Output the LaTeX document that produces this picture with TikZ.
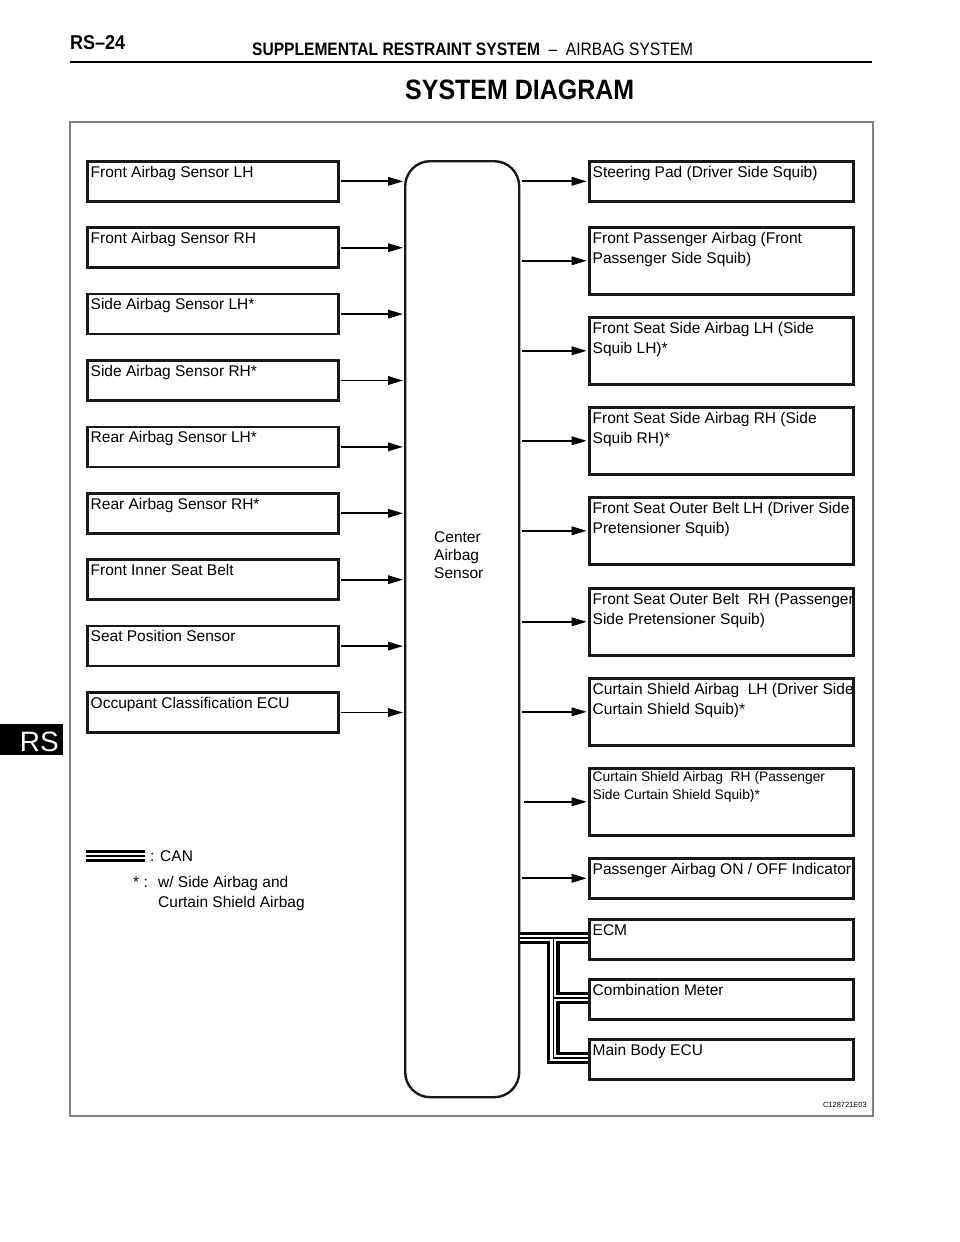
\documentclass[tikz,border=0pt]{standalone}
\usepackage{graphicx}
\usepackage{fontspec}
\setmainfont{Liberation Sans}
\usetikzlibrary{arrows.meta}
\begin{document}
\begin{tikzpicture}[x=1pt,y=-1pt,
  panel/.style={draw=black!50, line width=1.2pt},
  sbox/.style={draw=black!90, line width=2.6pt, anchor=north west, inner sep=0pt, minimum width=#1},
  txt/.style={anchor=base west, inner sep=0pt, font=\fontsize{15.5}{20}\selectfont},
  stxt/.style={anchor=base west, inner sep=0pt, font=\fontsize{13.8}{18}\selectfont},
  arr/.style={line width=1.8pt, -{Triangle[length=15pt,width=8.5pt]}},
  canlayer/.style={line width=#1, line join=miter, line cap=butt}
]
\useasboundingbox (0,0) rectangle (960,1242);
\fill[white] (0,0) rectangle (960,1242);

% header
\node[anchor=base west, inner sep=0pt] (pgno) at (70,49)
  {\resizebox{55pt}{\height}{\fontsize{20}{20}\selectfont\bfseries RS–24}};
\node[anchor=base west, inner sep=0pt] (hdr) at (252,55)
  {\resizebox{441pt}{\height}{\fontsize{18}{20}\selectfont\textbf{SUPPLEMENTAL RESTRAINT SYSTEM}\ \ –\ \ AIRBAG SYSTEM}};
\draw[line width=2.5pt] (70,62) -- (872,62);
\node[anchor=base west, inner sep=0pt] (title) at (405,99)
  {\resizebox{229pt}{\height}{\fontsize{28}{30}\selectfont\bfseries SYSTEM DIAGRAM}};

% side tab
\fill[black] (0,724) rectangle (63,755);
\node[anchor=base east, inner sep=0pt, text=white] (tab) at (59,751) {\fontsize{28}{28}\selectfont RS};

% panel frame
\draw[panel] (70,122) rectangle (873,1116);
\node[anchor=base east, inner sep=0pt, font=\fontsize{7.5}{8}\selectfont] (fig) at (867,1107) {C128721E03};

% center airbag sensor
\node[draw=black!90, line width=2.4pt, rounded corners=25pt, anchor=north west, inner sep=0pt,
      minimum width=114pt, minimum height=936pt] (c) at (404,160) {};
\node[txt] (ct1) at (434,542) {Center};
\node[txt] (ct2) at (434,560) {Airbag};
\node[txt] (ct3) at (434,578) {Sensor};

% left boxes
\foreach \t [count=\i] in {Front Airbag Sensor LH, Front Airbag Sensor RH, Side Airbag Sensor LH*,
  Side Airbag Sensor RH*, Rear Airbag Sensor LH*, Rear Airbag Sensor RH*, Front Inner Seat Belt,
  Seat Position Sensor, Occupant Classification ECU}{
  \node[sbox=251pt, minimum height=40pt] (l\i) at (86,{160+66.4*(\i-1)}) {};
  \node[txt] (lt\i) at ([xshift=4.5pt,yshift=-17pt]l\i.north west) {\t};
  \draw[arr] ([xshift=1.3pt]l\i.east) -- ([xshift=-1pt]c.west |- l\i.east);
}

% CAN bus (drawn before right boxes)
\coordinate (bus0) at (c.east |- 0,938);
\coordinate (tr) at ([xshift=33pt]bus0);
\foreach \w/\col in {12.5pt/black, 6pt/white, 1.3pt/black}{
  \draw[canlayer=\w, draw=\col] (bus0) -- (tr) -- (588,938);
  \draw[canlayer=\w, draw=\col] (tr) -- (tr |- 0,1058) -- (588,1058);
  \draw[canlayer=\w, draw=\col] (tr |- 0,998) -- (588,998);
}

% right boxes
\node[sbox=264pt, minimum height=40pt] (r1) at (588,160) {};
\node[sbox=264pt, minimum height=67pt] (r2) at (588,226) {};
\node[sbox=264pt, minimum height=67pt] (r3) at (588,316) {};
\node[sbox=264pt, minimum height=67pt] (r4) at (588,406) {};
\node[sbox=264pt, minimum height=67pt] (r5) at (588,496) {};
\node[sbox=264pt, minimum height=67pt] (r6) at (588,587) {};
\node[sbox=264pt, minimum height=67pt] (r7) at (588,677) {};
\node[sbox=264pt, minimum height=67pt] (r8) at (588,767) {};
\node[sbox=264pt, minimum height=40pt] (r9) at (588,857) {};
\node[sbox=264pt, minimum height=40pt] (r10) at (588,918) {};
\node[sbox=264pt, minimum height=40pt] (r11) at (588,978) {};
\node[sbox=264pt, minimum height=40pt] (r12) at (588,1038) {};

\node[txt] (rt1) at ([xshift=4.5pt,yshift=-17pt]r1.north west) {Steering Pad (Driver Side Squib)};
\node[txt] (rt2a) at ([xshift=4.5pt,yshift=-17pt]r2.north west) {Front Passenger Airbag (Front};
\node[txt] (rt2b) at ([xshift=4.5pt,yshift=-37pt]r2.north west) {Passenger Side Squib)};
\node[txt] (rt3a) at ([xshift=4.5pt,yshift=-17pt]r3.north west) {Front Seat Side Airbag LH (Side};
\node[txt] (rt3b) at ([xshift=4.5pt,yshift=-37pt]r3.north west) {Squib LH)*};
\node[txt] (rt4a) at ([xshift=4.5pt,yshift=-17pt]r4.north west) {Front Seat Side Airbag RH (Side};
\node[txt] (rt4b) at ([xshift=4.5pt,yshift=-37pt]r4.north west) {Squib RH)*};
\node[txt] (rt5a) at ([xshift=4.5pt,yshift=-17pt]r5.north west) {Front Seat Outer Belt LH (Driver Side};
\node[txt] (rt5b) at ([xshift=4.5pt,yshift=-37pt]r5.north west) {Pretensioner Squib)};
\node[txt] (rt6a) at ([xshift=4.5pt,yshift=-17pt]r6.north west) {Front Seat Outer Belt\ \ RH (Passenger};
\node[txt] (rt6b) at ([xshift=4.5pt,yshift=-37pt]r6.north west) {Side Pretensioner Squib)};
\node[txt] (rt7a) at ([xshift=4.5pt,yshift=-17pt]r7.north west) {Curtain Shield Airbag\ \ LH (Driver Side};
\node[txt] (rt7b) at ([xshift=4.5pt,yshift=-37pt]r7.north west) {Curtain Shield Squib)*};
\node[stxt] (rt8a) at ([xshift=4.5pt,yshift=-14pt]r8.north west) {Curtain Shield Airbag\ \ RH (Passenger};
\node[stxt] (rt8b) at ([xshift=4.5pt,yshift=-32pt]r8.north west) {Side Curtain Shield Squib)*};
\node[txt] (rt9) at ([xshift=4.5pt,yshift=-17pt]r9.north west) {Passenger Airbag ON / OFF Indicator};
\node[txt] (rt10) at ([xshift=4.5pt,yshift=-17pt]r10.north west) {ECM};
\node[txt] (rt11) at ([xshift=4.5pt,yshift=-17pt]r11.north west) {Combination Meter};
\node[txt] (rt12) at ([xshift=4.5pt,yshift=-17pt]r12.north west) {Main Body ECU};

% output arrows
\foreach \k in {1,...,7,9}{
  \draw[arr] ([xshift=1.2pt]c.east |- r\k.west) -- ([xshift=-1.3pt]r\k.west);
}
\draw[arr] ([xshift=4pt]c.east |- r8.west) -- ([xshift=-1.3pt]r8.west);

% legend
\coordinate (canA) at (86,856);
\coordinate (canB) at (145,856);
\foreach \w/\col in {12.5pt/black, 6pt/white, 1.3pt/black}{
  \draw[canlayer=\w, draw=\col] (canA) -- (canB);
}
\node[txt] (lg1) at (150,861) {: CAN};
\node[txt] (lg2) at (133,887) {* :};
\node[txt] (lg3) at (158,887) {w/ Side Airbag and};
\node[txt] (lg4) at (158,907) {Curtain Shield Airbag};
\end{tikzpicture}
\end{document}
